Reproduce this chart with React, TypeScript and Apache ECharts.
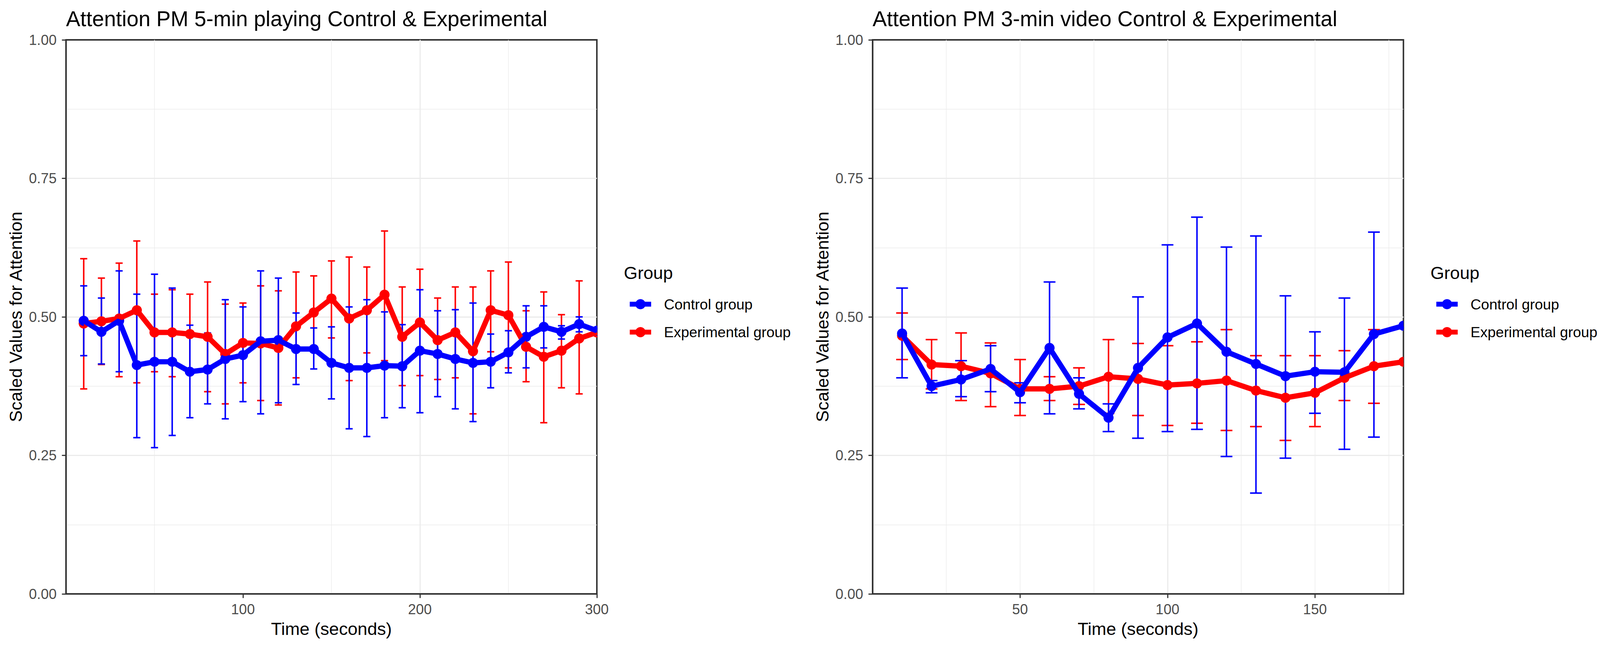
import React, { useEffect, useRef } from 'react';
import * as echarts from 'echarts';

// ---------- Data: left panel (5-min playing) ----------
const timeLeft = [10, 20, 30, 40, 50, 60, 70, 80, 90, 100, 110, 120, 130, 140, 150, 160, 170, 180, 190, 200, 210, 220, 230, 240, 250, 260, 270, 280, 290, 300];
const controlLeftMean = [0.493, 0.473, 0.493, 0.413, 0.419, 0.419, 0.401, 0.405, 0.424, 0.431, 0.456, 0.458, 0.442, 0.442, 0.417, 0.408, 0.408, 0.412, 0.411, 0.439, 0.433, 0.424, 0.417, 0.419, 0.436, 0.464, 0.482, 0.473, 0.487, 0.475];
const controlLeftUpper = [0.556, 0.534, 0.583, 0.541, 0.577, 0.552, 0.485, 0.471, 0.531, 0.518, 0.583, 0.570, 0.507, 0.480, 0.482, 0.518, 0.531, 0.509, 0.486, 0.549, 0.511, 0.513, 0.525, 0.469, 0.475, 0.520, 0.520, 0.484, 0.500, null];
const controlLeftLower = [0.430, 0.415, 0.401, 0.282, 0.264, 0.286, 0.318, 0.343, 0.316, 0.347, 0.325, 0.345, 0.378, 0.406, 0.352, 0.298, 0.284, 0.318, 0.336, 0.327, 0.356, 0.334, 0.311, 0.372, 0.399, 0.408, 0.444, 0.460, 0.473, null];
const expLeftMean = [0.488, 0.492, 0.497, 0.512, 0.472, 0.472, 0.469, 0.464, 0.433, 0.453, 0.452, 0.444, 0.483, 0.508, 0.533, 0.497, 0.512, 0.540, 0.464, 0.490, 0.458, 0.472, 0.438, 0.512, 0.503, 0.446, 0.428, 0.439, 0.461, 0.472];
const expLeftUpper = [0.605, 0.570, 0.597, 0.637, 0.541, 0.549, 0.541, 0.563, 0.523, 0.525, 0.556, 0.547, 0.581, 0.574, 0.601, 0.608, 0.590, 0.655, 0.554, 0.586, 0.534, 0.554, 0.554, 0.583, 0.599, 0.511, 0.545, 0.504, 0.565, null];
const expLeftLower = [0.370, 0.414, 0.392, 0.381, 0.401, 0.392, 0.397, 0.365, 0.343, 0.381, 0.349, 0.341, 0.390, 0.442, 0.462, 0.385, 0.435, 0.421, 0.376, 0.394, 0.387, 0.390, 0.325, 0.437, 0.408, 0.383, 0.309, 0.372, 0.361, null];

// ---------- Data: right panel (3-min video) ----------
const timeRight = [10, 20, 30, 40, 50, 60, 70, 80, 90, 100, 110, 120, 130, 140, 150, 160, 170, 180];
const controlRightMean = [0.470, 0.375, 0.387, 0.406, 0.364, 0.444, 0.361, 0.318, 0.408, 0.463, 0.488, 0.437, 0.415, 0.393, 0.401, 0.400, 0.469, 0.484];
const controlRightUpper = [0.552, 0.385, 0.421, 0.448, 0.381, 0.563, 0.390, 0.343, 0.536, 0.630, 0.680, 0.626, 0.646, 0.538, 0.473, 0.534, 0.653, null];
const controlRightLower = [0.390, 0.363, 0.356, 0.365, 0.345, 0.325, 0.334, 0.293, 0.281, 0.293, 0.297, 0.248, 0.182, 0.245, 0.326, 0.261, 0.283, null];
const expRightMean = [0.466, 0.414, 0.411, 0.398, 0.370, 0.370, 0.375, 0.392, 0.388, 0.377, 0.380, 0.385, 0.367, 0.354, 0.363, 0.390, 0.411, 0.419];
const expRightUpper = [0.507, 0.459, 0.471, 0.453, 0.423, 0.392, 0.408, 0.459, 0.452, 0.448, 0.455, 0.477, 0.430, 0.430, 0.430, 0.439, 0.477, null];
const expRightLower = [0.423, 0.370, 0.349, 0.338, 0.322, 0.349, 0.342, 0.326, 0.322, 0.304, 0.308, 0.295, 0.302, 0.277, 0.302, 0.349, 0.344, null];

// ---------- Labels ----------
const titleLeft = 'Attention PM 5-min playing Control & Experimental';
const titleRight = 'Attention PM 3-min video Control & Experimental';
const xAxisTitle = 'Time (seconds)';
const yAxisTitle = 'Scaled Values for Attention';
const legendTitle = 'Group';
const groupNames = ['Control group', 'Experimental group'];
const xTicksLeft = [100, 200, 300];
const xTicksRight = [50, 100, 150];

// ---------- Styling ----------
const FONT = "'Liberation Sans', Arial, Helvetica, sans-serif";
const BLUE = '#0000FF';
const RED = '#FF0000';
const REF_W = 4265;
const REF_H = 1661;
const CAP = 4; // error bar cap width in x units

const pairs = (xs: number[], ys: number[]) => xs.map((x, i) => [x, ys[i]]);
const triples = (xs: number[], lo: (number | null)[], hi: (number | null)[]) =>
  xs.map((x, i) => [x, lo[i], hi[i]]).filter((d) => d[1] != null && d[2] != null);

function buildOption(W: number, H: number): any {
  const sx = W / REF_W;
  const sy = H / REF_H;
  const f = Math.min(sx, sy);
  const X = (v: number) => v * sx;
  const Y = (v: number) => v * sy;

  const GRID_TOP = Y(102);
  const GRID_H = Y(1418);
  const GRID_W = X(1415);
  const LEFT0 = X(176);
  const LEFT1 = X(2326);
  const pointR = 13.5 * f;
  const lineW = 14 * f;
  const errW = 4 * f;
  const gridLine = { color: '#EBEBEB', width: 3 * f };
  const minorLine = { color: '#EBEBEB', width: 1.5 * f };

  const errRender = (color: string) => (params: any, api: any) => {
    const x = api.value(0);
    const lo = api.value(1);
    const hi = api.value(2);
    const top = api.coord([x, hi]);
    const bot = api.coord([x, lo]);
    const tl = api.coord([x - CAP / 2, hi]);
    const tr = api.coord([x + CAP / 2, hi]);
    const bl = api.coord([x - CAP / 2, lo]);
    const br = api.coord([x + CAP / 2, lo]);
    const style = { stroke: color, lineWidth: errW };
    return {
      type: 'group',
      children: [
        { type: 'line', shape: { x1: top[0], y1: top[1], x2: bot[0], y2: bot[1] }, style },
        { type: 'line', shape: { x1: tl[0], y1: tl[1], x2: tr[0], y2: tr[1] }, style },
        { type: 'line', shape: { x1: bl[0], y1: bl[1], x2: br[0], y2: br[1] }, style },
      ],
    };
  };

  const pointRender = (color: string) => (params: any, api: any) => {
    const p = api.coord([api.value(0), api.value(1)]);
    return { type: 'circle', shape: { cx: p[0], cy: p[1], r: pointR }, style: { fill: color } };
  };

  const xMain = (gridIndex: number, max: number, interval: number, ticks: number[], minor: boolean) => ({
    type: 'value',
    gridIndex,
    min: 0,
    max,
    interval,
    name: xAxisTitle,
    nameLocation: 'middle',
    nameGap: 70 * f,
    nameTextStyle: { fontFamily: FONT, fontSize: 47 * f, color: '#000000' },
    axisLine: { show: true, onZero: false, lineStyle: { color: '#333333', width: 4 * f } },
    axisTick: { show: true, length: 11 * f, lineStyle: { color: '#333333', width: 3 * f }, customValues: ticks },
    axisLabel: { fontFamily: FONT, fontSize: 38 * f, color: '#4D4D4D', margin: 22 * f, customValues: ticks },
    splitLine: { show: true, showMinLine: false, showMaxLine: false, lineStyle: gridLine },
    minorTick: { show: false, splitNumber: 2 },
    minorSplitLine: { show: minor, lineStyle: minorLine },
    z: 1,
  });

  const yMain = (gridIndex: number) => ({
    type: 'value',
    gridIndex,
    min: 0,
    max: 1,
    interval: 0.25,
    name: yAxisTitle,
    nameLocation: 'middle',
    nameGap: 110 * f,
    nameTextStyle: { fontFamily: FONT, fontSize: 47 * f, color: '#000000' },
    axisLine: { show: true, onZero: false, lineStyle: { color: '#333333', width: 4 * f } },
    axisTick: { show: true, length: 11 * f, lineStyle: { color: '#333333', width: 3 * f } },
    axisLabel: { fontFamily: FONT, fontSize: 38 * f, color: '#4D4D4D', margin: 25 * f, formatter: (v: number) => v.toFixed(2) },
    splitLine: { show: true, showMinLine: false, showMaxLine: false, lineStyle: gridLine },
    minorTick: { show: false, splitNumber: 2 },
    minorSplitLine: { show: true, lineStyle: minorLine },
    z: 1,
  });

  const panelSeries = (
    xAxisIndex: number,
    yAxisIndex: number,
    xs: number[],
    cMean: number[], cLo: (number | null)[], cHi: (number | null)[],
    eMean: number[], eLo: (number | null)[], eHi: (number | null)[],
  ) => {
    const base = { xAxisIndex, yAxisIndex };
    return [
      { ...base, type: 'custom', name: 'Experimental group error', renderItem: errRender(RED), data: triples(xs, eLo, eHi), clip: true, silent: true },
      { ...base, type: 'custom', name: 'Control group error', renderItem: errRender(BLUE), data: triples(xs, cLo, cHi), clip: true, silent: true },
      {
        ...base, type: 'line', name: groupNames[1], data: pairs(xs, eMean), symbol: 'circle', showSymbol: false,
        lineStyle: { color: RED, width: lineW }, itemStyle: { color: RED }, clip: true,
      },
      { ...base, type: 'custom', name: 'Experimental group points', renderItem: pointRender(RED), data: pairs(xs, eMean), clip: true, silent: true },
      {
        ...base, type: 'line', name: groupNames[0], data: pairs(xs, cMean), symbol: 'circle', showSymbol: false,
        lineStyle: { color: BLUE, width: lineW }, itemStyle: { color: BLUE }, clip: true,
      },
      { ...base, type: 'custom', name: 'Control group points', renderItem: pointRender(BLUE), data: pairs(xs, cMean), clip: true, silent: true },
    ];
  };

  const legendAt = (left: number) => ({
    orient: 'vertical',
    left: X(left),
    top: Y(755),
    itemWidth: 57 * f,
    itemHeight: 34 * f,
    itemGap: 36 * f,
    data: groupNames,
    lineStyle: { width: 13 * f },
    textStyle: { fontFamily: FONT, fontSize: 39 * f, color: '#000000', padding: [0, 0, 0, 29 * f] },
  });

  const titleStyle = { fontFamily: FONT, fontSize: 57 * f, fontWeight: 'normal', color: '#000000' };
  const legendTitleStyle = { fontFamily: FONT, fontSize: 47 * f, fontWeight: 'normal', color: '#000000' };
  const gridBase = {
    top: GRID_TOP, width: GRID_W, height: GRID_H, show: true, borderColor: '#333333',
    borderWidth: 4 * f, backgroundColor: '#FFFFFF', containLabel: false, outerBoundsMode: 'none',
  };

  return {
    animation: false,
    backgroundColor: '#FFFFFF',
    title: [
      { text: titleLeft, left: LEFT0, top: Y(20), padding: 0, textStyle: titleStyle },
      { text: titleRight, left: LEFT1, top: Y(20), padding: 0, textStyle: titleStyle },
      { text: legendTitle, left: X(1663), top: Y(676), padding: 0, textStyle: legendTitleStyle },
      { text: legendTitle, left: X(3813), top: Y(676), padding: 0, textStyle: legendTitleStyle },
    ],
    legend: [legendAt(1667), legendAt(3817)],
    grid: [
      { ...gridBase, left: LEFT0 },
      { ...gridBase, left: LEFT1 },
    ],
    xAxis: [
      xMain(0, 300, 100, xTicksLeft, true),
      xMain(1, 180, 50, xTicksRight, false),
      {
        type: 'value', gridIndex: 1, min: 0, max: 180, interval: 25, position: 'top',
        axisLine: { show: false }, axisTick: { show: false }, axisLabel: { show: false },
        splitLine: { show: true, showMinLine: false, showMaxLine: false, lineStyle: minorLine },
        z: 0,
      },
    ],
    yAxis: [yMain(0), yMain(1)],
    series: [
      ...panelSeries(0, 0, timeLeft, controlLeftMean, controlLeftLower, controlLeftUpper, expLeftMean, expLeftLower, expLeftUpper),
      ...panelSeries(1, 1, timeRight, controlRightMean, controlRightLower, controlRightUpper, expRightMean, expRightLower, expRightUpper),
    ],
  };
}

export default function App() {
  const ref = useRef<HTMLDivElement>(null);
  useEffect(() => {
    const el = ref.current as HTMLDivElement;
    const W = el.clientWidth || REF_W;
    const H = el.clientHeight || REF_H;
    const chart = echarts.init(el, null, { renderer: 'svg', width: W, height: H });
    chart.setOption(buildOption(W, H));
    return () => chart.dispose();
  }, []);
  return (
    <div
      ref={ref}
      style={{ position: 'fixed', left: 0, top: 0, width: '100vw', height: '100vh', background: '#FFFFFF' }}
    />
  );
}
